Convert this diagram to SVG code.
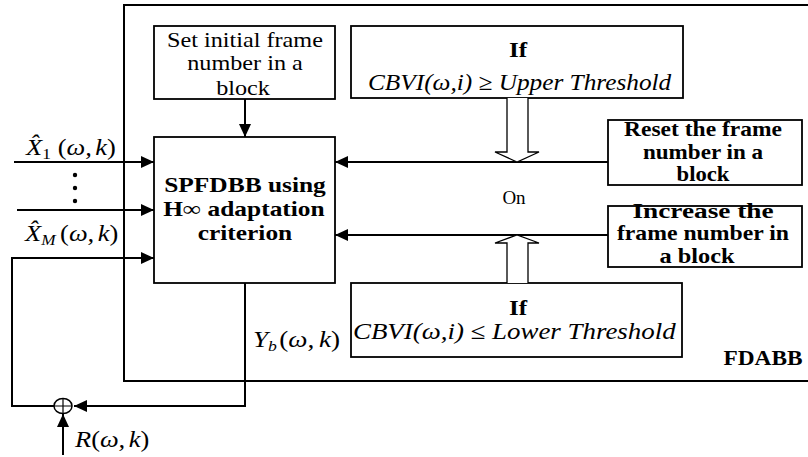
<svg xmlns="http://www.w3.org/2000/svg" width="808" height="457" viewBox="0 0 808 457">
<style>
.box{fill:#fff;stroke:#000;stroke-width:1.8}
.ln{fill:none;stroke:#000;stroke-width:2}
.t{font-family:Liberation Serif, serif;font-size:22px;fill:#000;text-anchor:middle}
.b{font-family:Liberation Serif, serif;font-size:21px;font-weight:bold;fill:#000;text-anchor:middle}
.m{font-family:Liberation Serif, serif;font-size:23px;font-style:italic;fill:#000}
.sub{font-size:15px;font-style:italic}
.up{font-style:normal}
</style>
<defs>
<marker id="ah" markerUnits="userSpaceOnUse" markerWidth="14" markerHeight="12" refX="13" refY="6" orient="auto">
<path d="M0,0 L13,6 L0,12 z" fill="#000"/>
</marker>
</defs>
<rect width="808" height="457" fill="#fff"/>

<g id="fdabb">
<path class="ln" d="M808,5 H124 V381 H808"/>
<text class="b" transform="translate(763,365) scale(1.11,1)">FDABB</text>
</g>

<g id="set-initial">
<rect class="box" x="154" y="26" width="181" height="73"/>
<text class="t" transform="translate(245,47) scale(1.1,1)">Set initial frame</text>
<text class="t" transform="translate(245,70) scale(1.1,1)">number in a</text>
<text class="t" transform="translate(243,95) scale(1.1,1)">block</text>
</g>

<g id="spfdbb">
<rect class="box" x="154" y="137" width="181" height="146"/>
<text class="b" transform="translate(245,192) scale(1.21,1)">SPFDBB using</text>
<text class="b" transform="translate(244,216) scale(1.21,1)">H∞ adaptation</text>
<text class="b" transform="translate(245,240) scale(1.21,1)">criterion</text>
</g>

<g id="if-upper">
<rect class="box" x="351" y="26" width="332" height="72"/>
<text class="b" transform="translate(518,57) scale(1.2,1)">If</text>
<text class="m" transform="translate(368,90) scale(1.1,1)">CBVI(ω,i) ≥ Upper Threshold</text>
</g>

<g id="if-lower">
<rect class="box" x="351" y="283" width="331" height="74"/>
<text class="b" transform="translate(518,315) scale(1.2,1)">If</text>
<text class="m" transform="translate(353,339) scale(1.17,1)">CBVI(ω,i) ≤ Lower Threshold</text>
</g>

<g id="reset">
<rect class="box" x="608" y="120" width="194" height="65"/>
<text class="b" transform="translate(703,136) scale(1.12,1)">Reset the frame</text>
<text class="b" transform="translate(703,159) scale(1.1,1)">number in a</text>
<text class="b" transform="translate(703,181) scale(1.08,1)">block</text>
</g>

<g id="increase">
<rect class="box" x="608" y="206" width="194" height="61"/>
<text class="b" transform="translate(703,218) scale(1.3,1)">Increase the</text>
<text class="b" transform="translate(703,240) scale(1.13,1)">frame number in</text>
<text class="b" transform="translate(697,263) scale(1.16,1)">a block</text>
</g>

<g id="on">
<text class="t" x="514" y="204" style="font-size:19px">On</text>
</g>

<g id="sum">
<ellipse cx="63" cy="406" rx="9" ry="7.5" fill="#fff" stroke="#000" stroke-width="1.5"/>
<path d="M54,406 H72 M63,398.5 V413.5" stroke="#000" stroke-width="1.2"/>
</g>

<g id="labels">
<text class="m" transform="translate(26,155) scale(1.15,1)">X̂<tspan class="sub up" dy="4">1</tspan><tspan dy="-4" dx="6" class="up">(</tspan>ω,<tspan dx="3">k</tspan><tspan class="up">)</tspan></text>
<g fill="#000"><circle cx="75" cy="175" r="2.2"/><circle cx="75" cy="188" r="2.2"/><circle cx="75" cy="201" r="2.2"/></g>
<text class="m" transform="translate(25,241) scale(1.15,1)">X̂<tspan class="sub" dy="4">M</tspan><tspan dy="-4" dx="4" class="up">(</tspan>ω,<tspan dx="3">k</tspan><tspan class="up">)</tspan></text>
<text class="m" transform="translate(253,347) scale(1.18,1)">Y<tspan class="sub" dy="4">b</tspan><tspan dy="-4" dx="2" class="up">(</tspan>ω,<tspan dx="4">k</tspan><tspan class="up">)</tspan></text>
<text class="m" transform="translate(75,447) scale(1.15,1)">R<tspan class="up">(</tspan>ω,<tspan dx="3">k</tspan><tspan class="up">)</tspan></text>
</g>

<g id="connectors">
<line class="ln" x1="14" y1="162" x2="154" y2="162" marker-end="url(#ah)"/>
<line class="ln" x1="17" y1="210" x2="154" y2="210" marker-end="url(#ah)"/>
<path class="ln" d="M54,406 H12 V258 H154" marker-end="url(#ah)"/>
<path class="ln" d="M245,283 V406 H74" marker-end="url(#ah)"/>
<line class="ln" x1="63" y1="455" x2="63" y2="414" marker-end="url(#ah)"/>
<line class="ln" x1="245" y1="99" x2="245" y2="137" marker-end="url(#ah)"/>
<line class="ln" x1="608" y1="162" x2="335" y2="162" marker-end="url(#ah)"/>
<line class="ln" x1="608" y1="235" x2="335" y2="235" marker-end="url(#ah)"/>
<path d="M507,98 V152 H495 L517,162 L539,152 H528 V98" fill="#fff" stroke="#000" stroke-width="1.3"/>
<path d="M507,283 V243 H495 L517,235 L539,243 H528 V283" fill="#fff" stroke="#000" stroke-width="1.3"/>
</g>
</svg>
